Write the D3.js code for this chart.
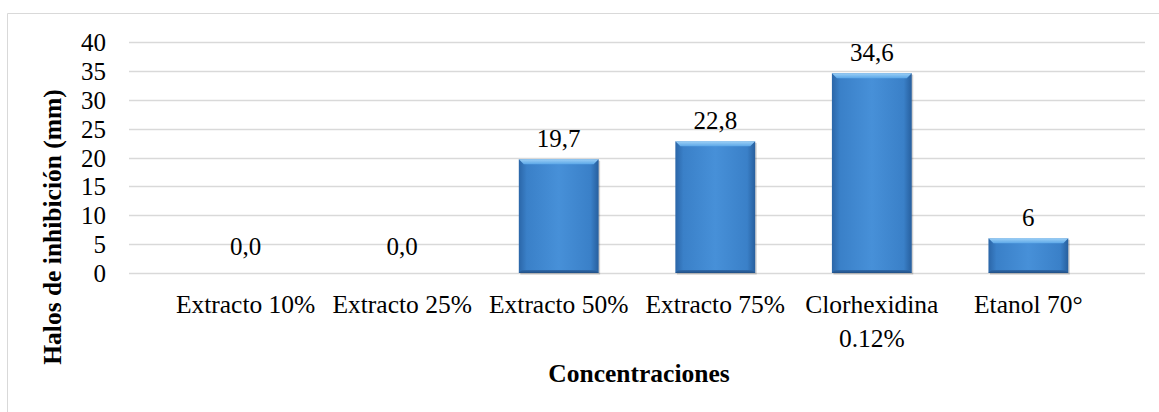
<!DOCTYPE html>
<html>
<head>
<meta charset="utf-8">
<script src="https://cdn.jsdelivr.net/npm/d3@7"></script>
<style>
  body { margin: 0; background: #fff; }
  text { font-family: "Liberation Serif", "Times New Roman", serif; fill: #000; }
</style>
</head>
<body>
<div id="chart"></div>
<script>
// data
var categories = ["Extracto 10%", "Extracto 25%", "Extracto 50%", "Extracto 75%", "Clorhexidina 0.12%", "Etanol 70°"];
var values = [0, 0, 19.7, 22.8, 34.6, 6];
var valueLabels = ["0,0", "0,0", "19,7", "22,8", "34,6", "6"];
var yTicks = [0, 5, 10, 15, 20, 25, 30, 35, 40];

var W = 1159, H = 412;
var margin = {top: 42, left: 129},
    width = 1145 - margin.left,
    height = 273 - margin.top;

var svg = d3.select("#chart")
  .append("svg")
    .attr("width", W)
    .attr("height", H);

// outer frame (only top and left show)
svg.append("path")
  .attr("d", "M7.5," + H + "V13.5H" + W)
  .attr("fill", "none")
  .attr("stroke", "#d9d9d9");

var defs = svg.append("defs");
var g1 = defs.append("linearGradient").attr("id", "barFill")
  .attr("x1", "0").attr("x2", "1").attr("y1", "0").attr("y2", "0");
g1.append("stop").attr("offset", "0").attr("stop-color", "#2b66a8");
g1.append("stop").attr("offset", "0.1").attr("stop-color", "#3a80c8");
g1.append("stop").attr("offset", "0.5").attr("stop-color", "#4790d8");
g1.append("stop").attr("offset", "0.9").attr("stop-color", "#3a80c8");
g1.append("stop").attr("offset", "1").attr("stop-color", "#275f9e");
var g2 = defs.append("linearGradient").attr("id", "topFill")
  .attr("x1", "0").attr("x2", "0").attr("y1", "0").attr("y2", "1");
g2.append("stop").attr("offset", "0").attr("stop-color", "#9dd0f6");
g2.append("stop").attr("offset", "1").attr("stop-color", "#5ba7e8");
var g3 = defs.append("linearGradient").attr("id", "botFill")
  .attr("x1", "0").attr("x2", "0").attr("y1", "0").attr("y2", "1");
g3.append("stop").attr("offset", "0").attr("stop-color", "#2f6aab");
g3.append("stop").attr("offset", "1").attr("stop-color", "#214f85");

var chart = svg.append("g")
  .attr("transform", "translate(" + margin.left + "," + margin.top + ")");

var x = d3.scaleBand()
  .domain(categories)
  .range([0, width])
  .padding(0.49);

var y = d3.scaleLinear()
  .domain([0, 40])
  .range([height, 0]);

// gridlines
chart.selectAll(".grid")
  .data(yTicks)
  .enter().append("line")
    .attr("x1", 0).attr("x2", width)
    .attr("y1", function(d) { return Math.round(y(d)) + 0.5; })
    .attr("y2", function(d) { return Math.round(y(d)) + 0.5; })
    .attr("stroke", "#d9d9d9")
    .attr("stroke-width", 1.5);

// y axis labels
var yAxis = chart.append("g")
  .call(d3.axisLeft(y).tickValues(yTicks).tickSize(0).tickPadding(23));
yAxis.select(".domain").remove();
yAxis.selectAll("text")
  .style("font-family", "'Liberation Serif', serif")
  .style("font-size", "25px")
  .attr("dy", "0.34em")
  .attr("fill", "#000");

// bars
var bars = chart.selectAll(".bar")
  .data(values)
  .enter().append("g")
    .attr("class", "bar")
    .attr("transform", function(d, i) { return "translate(" + x(categories[i]) + ",0)"; });

bars.each(function(d) {
  var gb = d3.select(this);
  if (d <= 0) return;
  var bw = x.bandwidth(), top = y(d), bot = y(0), b = 5;
  gb.append("rect")
    .attr("x", 1.5).attr("y", top + 1.5)
    .attr("width", bw).attr("height", bot - top)
    .attr("fill", "#000").attr("opacity", 0.18);
  gb.append("rect")
    .attr("x", 0).attr("y", top)
    .attr("width", bw).attr("height", bot - top)
    .attr("fill", "url(#barFill)");
  gb.append("path")
    .attr("d", "M0," + top + "L" + bw + "," + top + "L" + (bw - b) + "," + (top + b) + "L" + b + "," + (top + b) + "Z")
    .attr("fill", "url(#topFill)");
  gb.append("path")
    .attr("d", "M0," + bot + "L" + bw + "," + bot + "L" + (bw - 3) + "," + (bot - 3) + "L" + 3 + "," + (bot - 3) + "Z")
    .attr("fill", "url(#botFill)");
});

// value labels
chart.selectAll(".val")
  .data(values)
  .enter().append("text")
    .attr("x", function(d, i) { return x(categories[i]) + x.bandwidth() / 2; })
    .attr("y", function(d) { return y(d) - (d > 0 ? 12 : 18); })
    .attr("text-anchor", "middle")
    .style("font-size", "25px")
    .text(function(d, i) { return valueLabels[i]; });

// category labels
var catLines = [["Extracto 10%"], ["Extracto 25%"], ["Extracto 50%"], ["Extracto 75%"], ["Clorhexidina", "0.12%"], ["Etanol 70°"]];
chart.selectAll(".cat")
  .data(categories)
  .enter().append("text")
    .attr("x", function(d) { return x(d) + x.bandwidth() / 2; })
    .attr("y", height + 40)
    .attr("text-anchor", "middle")
    .style("font-size", "25.5px")
    .each(function(d, i) {
      var t = d3.select(this);
      catLines[i].forEach(function(line, j) {
        t.append("tspan")
          .attr("x", x(d) + x.bandwidth() / 2)
          .attr("dy", j === 0 ? 0 : 34)
          .text(line);
      });
    });

// axis titles
svg.append("text")
  .attr("x", 639)
  .attr("y", 382)
  .attr("text-anchor", "middle")
  .style("font-size", "25.5px")
  .style("font-weight", "bold")
  .text("Concentraciones");

svg.append("text")
  .attr("transform", "translate(61,227) rotate(-90)")
  .attr("text-anchor", "middle")
  .style("font-size", "25.5px")
  .style("font-weight", "bold")
  .text("Halos de inhibición (mm)");
</script>
</body>
</html>
